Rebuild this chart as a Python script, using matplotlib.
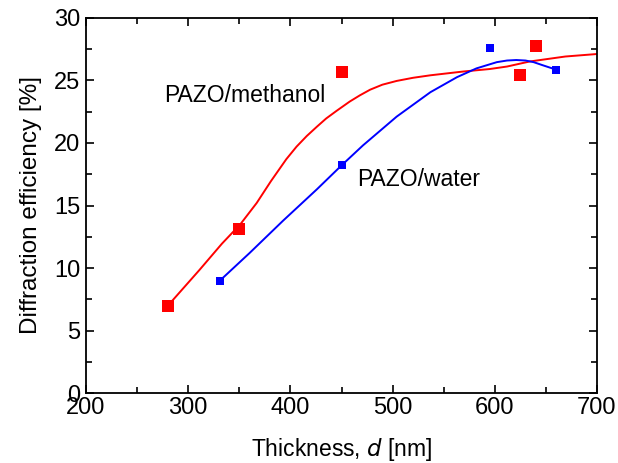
import numpy as np
import matplotlib
matplotlib.use("Agg")
import matplotlib.pyplot as plt
from matplotlib.ticker import MultipleLocator

plt.rcParams["font.family"] = ["Liberation Sans", "DejaVu Sans"]

# measured points
meth_x = [280, 350, 450, 625, 640]
meth_y = [7.0, 13.1, 25.65, 25.4, 27.75]
water_x = [331, 450, 595, 660]
water_y = [9.0, 18.25, 27.6, 25.85]

# fitted curves
meth_fit_x = [280, 285, 311, 333, 351, 367, 381, 396, 406, 416, 426, 435, 445,
              458, 468, 478, 490, 504, 520, 537, 569, 595, 612, 634, 669, 700]
meth_fit_y = [7.0, 7.45, 9.85, 11.95, 13.5, 15.2, 16.95, 18.7, 19.7, 20.55,
              21.3, 21.95, 22.55, 23.3, 23.8, 24.25, 24.65, 24.95, 25.2, 25.4,
              25.7, 25.9, 26.1, 26.5, 26.9, 27.1]
water_fit_x = [331, 360, 393, 426, 450, 471, 504, 537, 563, 582, 602, 612, 621,
               630, 638, 647, 660]
water_fit_y = [9.0, 11.2, 13.8, 16.3, 18.2, 19.8, 22.1, 24.05, 25.25, 25.95,
               26.45, 26.58, 26.62, 26.58, 26.45, 26.2, 25.85]

fig = plt.figure(figsize=(6.18, 4.63), dpi=100)
ax = fig.add_axes([86 / 618, 69.7 / 463, 511 / 618, 375.6 / 463])

ax.plot(meth_fit_x, meth_fit_y, color="#ff0000", linewidth=1.4)
ax.plot(water_fit_x, water_fit_y, color="#0000ff", linewidth=1.4)
ax.plot(meth_x, meth_y, "s", color="#ff0000", markersize=8.5, markeredgewidth=0)
ax.plot(water_x, water_y, "s", color="#0000ff", markersize=6, markeredgewidth=0)

ax.text(276.5, 23.75, "PAZO/methanol", fontsize=16.5, ha="left", va="center")
ax.text(465, 17.1, "PAZO/water", fontsize=16.5, ha="left", va="center")

ax.set_xlim(200, 700)
ax.set_ylim(0, 30)
ax.xaxis.set_major_locator(MultipleLocator(100))
ax.xaxis.set_minor_locator(MultipleLocator(50))
ax.yaxis.set_major_locator(MultipleLocator(5))
ax.yaxis.set_minor_locator(MultipleLocator(2.5))
ax.tick_params(which="both", direction="in", top=True, right=True, width=1.2)
ax.tick_params(which="major", length=6, labelsize=17)
ax.tick_params(axis="x", which="major", pad=3)
ax.tick_params(axis="y", which="major", pad=4)
ax.tick_params(which="minor", length=4)
for s in ax.spines.values():
    s.set_linewidth(1.3)

ax.set_xlabel("Thickness, $\\it{d}$ [nm]", fontsize=16.5, labelpad=12)
ax.set_ylabel("Diffraction efficiency [%]", fontsize=17.5, labelpad=9)

fig.savefig("out.png", dpi=100)
